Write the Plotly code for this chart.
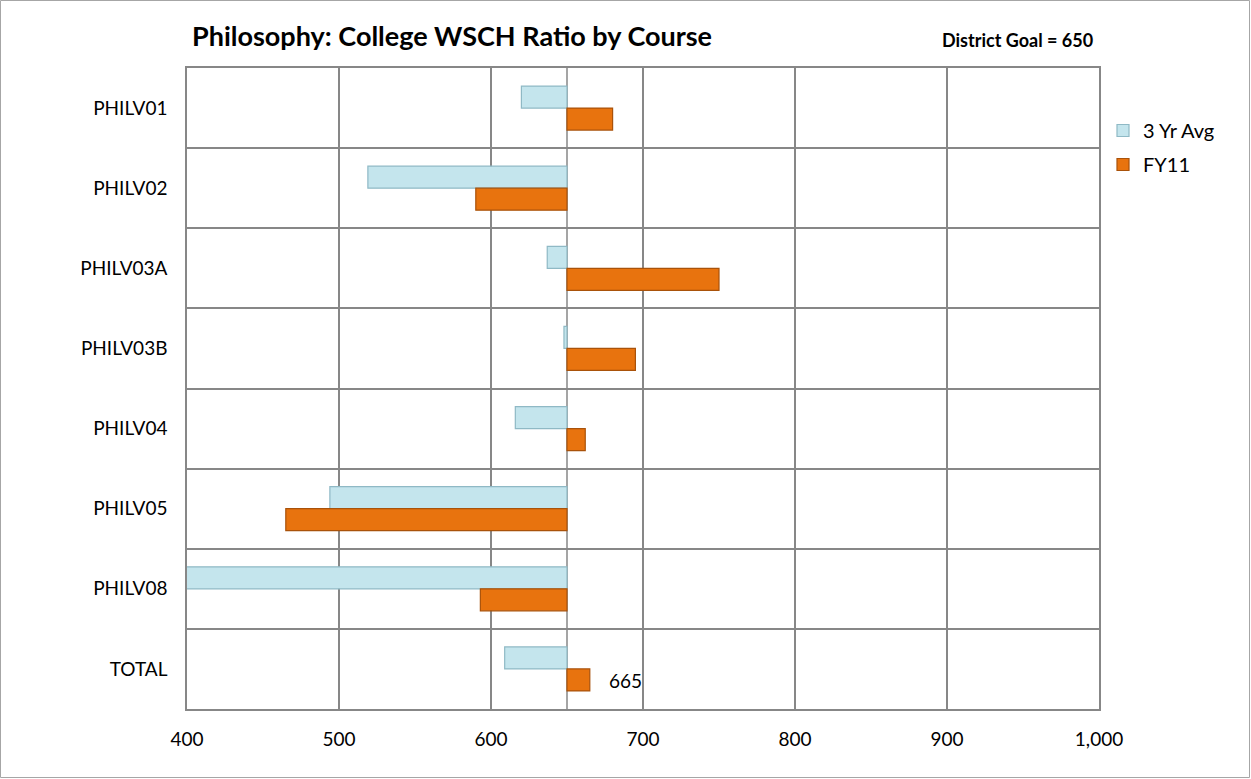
import plotly.graph_objects as go

categories = ["PHILV01", "PHILV02", "PHILV03A", "PHILV03B", "PHILV04", "PHILV05", "PHILV08", "TOTAL"]
avg3yr = [620, 519, 637, 648, 616, 494, 380, 609]
fy11 = [680, 590, 750, 695, 662, 465, 593, 665]
goal = 650
x_ticks = [400, 500, 600, 700, 800, 900, 1000]
x_ticklabels = ["400", "500", "600", "700", "800", "900", "1,000"]

W, H = 1251, 779
L, R, T, B = 187, 152, 68, 70
PW, PH = W - L - R, H - T - B
FONT = "Lato, 'Liberation Sans', sans-serif"


def px_x(p):
    return (p - L) / PW


def px_y(p):
    return 1 - (p - T) / PH


fig = go.Figure()
fig.add_trace(go.Bar(
    y=categories, x=[v - goal for v in avg3yr], base=goal, orientation="h",
    name="3 Yr Avg", legendgroup="a",
    marker=dict(color="#c4e5ed", line=dict(color="#8fb9c5", width=1.2)),
))
fig.add_trace(go.Bar(
    y=categories, x=[v - goal for v in fy11], base=goal, orientation="h",
    name="FY11", legendgroup="b",
    marker=dict(color="#e8730e", line=dict(color="#a9520a", width=1.2)),
))

# data label for TOTAL FY11
fig.add_annotation(
    x=fy11[-1], y=categories[-1], xref="x", yref="y", text=str(fy11[-1]),
    showarrow=False, xanchor="left", xshift=17, yshift=-12,
    font=dict(family=FONT, size=19, color="#000"),
)

# vertical axis line at goal
fig.add_shape(type="line", xref="x", yref="paper", x0=goal, x1=goal, y0=0, y1=1,
              line=dict(color="#878787", width=1.5), layer="below")

# outer chart border
fig.add_shape(type="rect", xref="paper", yref="paper",
              x0=px_x(0.5), x1=px_x(W - 1.5), y0=px_y(H - 1.5), y1=px_y(0.5),
              line=dict(color="#a6a6a6", width=1))

fig.update_layout(
    width=W, height=H,
    margin=dict(l=L, r=R, t=T, b=B),
    paper_bgcolor="white", plot_bgcolor="white",
    barmode="group", bargap=0.45, bargroupgap=0,
    font=dict(family=FONT, size=19, color="#000"),
    title=dict(text="<b>Philosophy: College WSCH Ratio by Course</b>",
               xref="container", yref="container",
               x=192 / W, xanchor="left", y=1 - 37 / H, yanchor="middle",
               font=dict(family=FONT, size=27, color="#000")),
    legend=dict(x=px_x(1103), y=px_y(111),
                xanchor="left", yanchor="top", traceorder="grouped",
                tracegroupgap=5, font=dict(size=20), bgcolor="rgba(0,0,0,0)"),
    showlegend=True,
)
fig.add_annotation(text="<b>District Goal = 650</b>", xref="paper", yref="paper",
                   x=px_x(1095), y=px_y(40),
                   xanchor="right", yanchor="middle", showarrow=False,
                   font=dict(family=FONT, size=18, color="#000"))

fig.update_xaxes(range=[400, 1000], tickvals=x_ticks, ticktext=x_ticklabels,
                 showgrid=True, gridcolor="#878787", gridwidth=1.5,
                 showline=True, linecolor="#878787", linewidth=1.5, mirror=True,
                 ticks="outside", ticklen=12, tickcolor="rgba(0,0,0,0)",
                 zeroline=False, tickfont=dict(size=19))
fig.update_yaxes(autorange="reversed", type="category", tickson="boundaries",
                 showgrid=True, gridcolor="#878787", gridwidth=1.5,
                 showline=True, linecolor="#878787", linewidth=1.5, mirror=True,
                 ticks="", ticklabelstandoff=14,
                 tickfont=dict(size=19))

fig.write_html("out.html", config={"displayModeBar": False},
               post_script="document.body.style.margin='0px';")
